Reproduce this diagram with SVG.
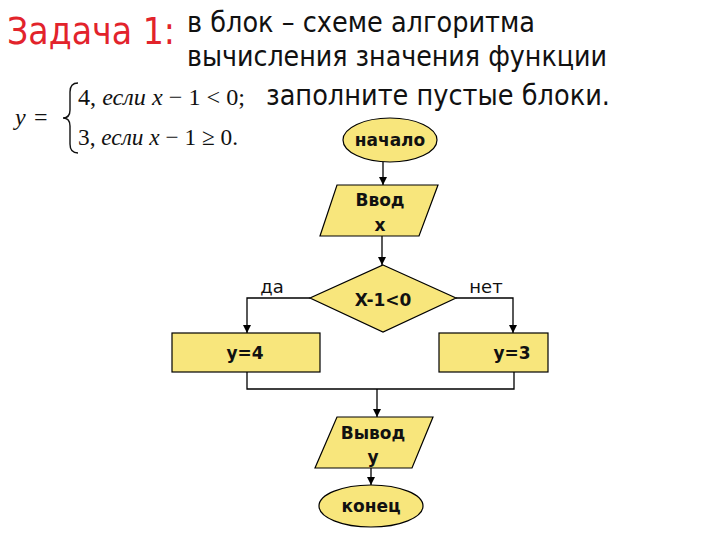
<svg xmlns="http://www.w3.org/2000/svg" width="720" height="540" viewBox="0 0 720 540">
<defs>
<marker id="arr" viewBox="0 0 10 10" refX="10" refY="5" markerWidth="8" markerHeight="8" markerUnits="userSpaceOnUse" orient="auto"><path d="M0,0 L10,5 L0,10 z" fill="#000"/></marker>
<style>
.shape{fill:#f8e67c;stroke:#000;stroke-width:1.2}
.lbl{font-family:"DejaVu Sans",sans-serif;font-weight:bold;font-size:17px;fill:#111;text-anchor:middle}
.hdr{font-family:"DejaVu Sans",sans-serif;font-size:28px;fill:#111}
.math{font-family:"Liberation Serif",serif;font-size:24px;fill:#111}
.con{fill:none;stroke:#000;stroke-width:1.3}
.yn{font-family:"DejaVu Sans",sans-serif;font-size:18px;fill:#111;text-anchor:middle}
</style>
</defs>
<rect width="720" height="540" fill="#fff"/>
<text x="7" y="44" font-family="DejaVu Sans Condensed,DejaVu Sans,sans-serif" font-size="38" fill="#e2232b" textLength="168" lengthAdjust="spacingAndGlyphs">Задача 1:</text>
<text class="hdr" x="187" y="32" textLength="348" lengthAdjust="spacingAndGlyphs">в блок – схеме алгоритма</text>
<text class="hdr" x="187" y="66" textLength="420" lengthAdjust="spacingAndGlyphs">вычисления значения функции</text>
<text class="hdr" x="266" y="105" textLength="344" lengthAdjust="spacingAndGlyphs">заполните пустые блоки.</text>
<g id="formula">
<text class="math" x="15" y="125" font-style="italic">y</text>
<text class="math" x="34" y="125">=</text>
<path d="M78,83 Q70,83 70,92 L70,110 Q70,118 63,118 Q70,118 70,126 L70,144 Q70,153 78,153" fill="none" stroke="#111" stroke-width="1.4"/>
<text class="math" x="78" y="105" textLength="167" lengthAdjust="spacingAndGlyphs">4, <tspan font-style="italic">если</tspan>  <tspan font-style="italic">x</tspan> − 1 &lt; 0;</text>
<text class="math" x="78" y="145" textLength="160" lengthAdjust="spacingAndGlyphs">3, <tspan font-style="italic">если</tspan>  <tspan font-style="italic">x</tspan> − 1 ≥ 0.</text>
</g>
<g id="connectors">
<line class="con" x1="383" y1="162" x2="383" y2="185" marker-end="url(#arr)"/>
<line class="con" x1="382" y1="236" x2="382" y2="265" marker-end="url(#arr)"/>
<polyline class="con" points="310,298 247,298 247,333" marker-end="url(#arr)"/>
<polyline class="con" points="456,298 513,298 513,333" marker-end="url(#arr)"/>
<polyline class="con" points="247,372 247,389 514,389 514,372"/>
<line class="con" x1="377" y1="389" x2="377" y2="417" marker-end="url(#arr)"/>
<line class="con" x1="371" y1="468" x2="371" y2="485" marker-end="url(#arr)"/>
<text class="yn" x="272" y="293">да</text>
<text class="yn" x="486" y="293">нет</text>
</g>
<g id="start">
<ellipse class="shape" cx="390" cy="140" rx="47" ry="22"/>
<text class="lbl" x="390" y="146">начало</text>
</g>
<g id="input">
<polygon class="shape" points="337,185 438,185 419,236 320,236"/>
<text class="lbl" x="380" y="206">Ввод</text>
<text class="lbl" x="380" y="231">x</text>
</g>
<g id="decision">
<polygon class="shape" points="383,265 456,298 383,332 310,298"/>
<text class="lbl" x="383" y="306" font-size="21">X-1&lt;0</text>
</g>
<g id="y4">
<rect class="shape" x="172" y="333" width="148" height="39"/>
<text class="lbl" x="245" y="359" font-size="19">y=4</text>
</g>
<g id="y3">
<rect class="shape" x="439" y="333" width="109" height="39"/>
<text class="lbl" x="512" y="359" font-size="19">y=3</text>
</g>
<g id="output">
<polygon class="shape" points="337,417 433,417 412,468 315,468"/>
<text class="lbl" x="373" y="439">Вывод</text>
<text class="lbl" x="373" y="463">y</text>
</g>
<g id="end">
<ellipse class="shape" cx="371" cy="506" rx="52" ry="21"/>
<text class="lbl" x="371" y="512">конец</text>
</g>
</svg>
